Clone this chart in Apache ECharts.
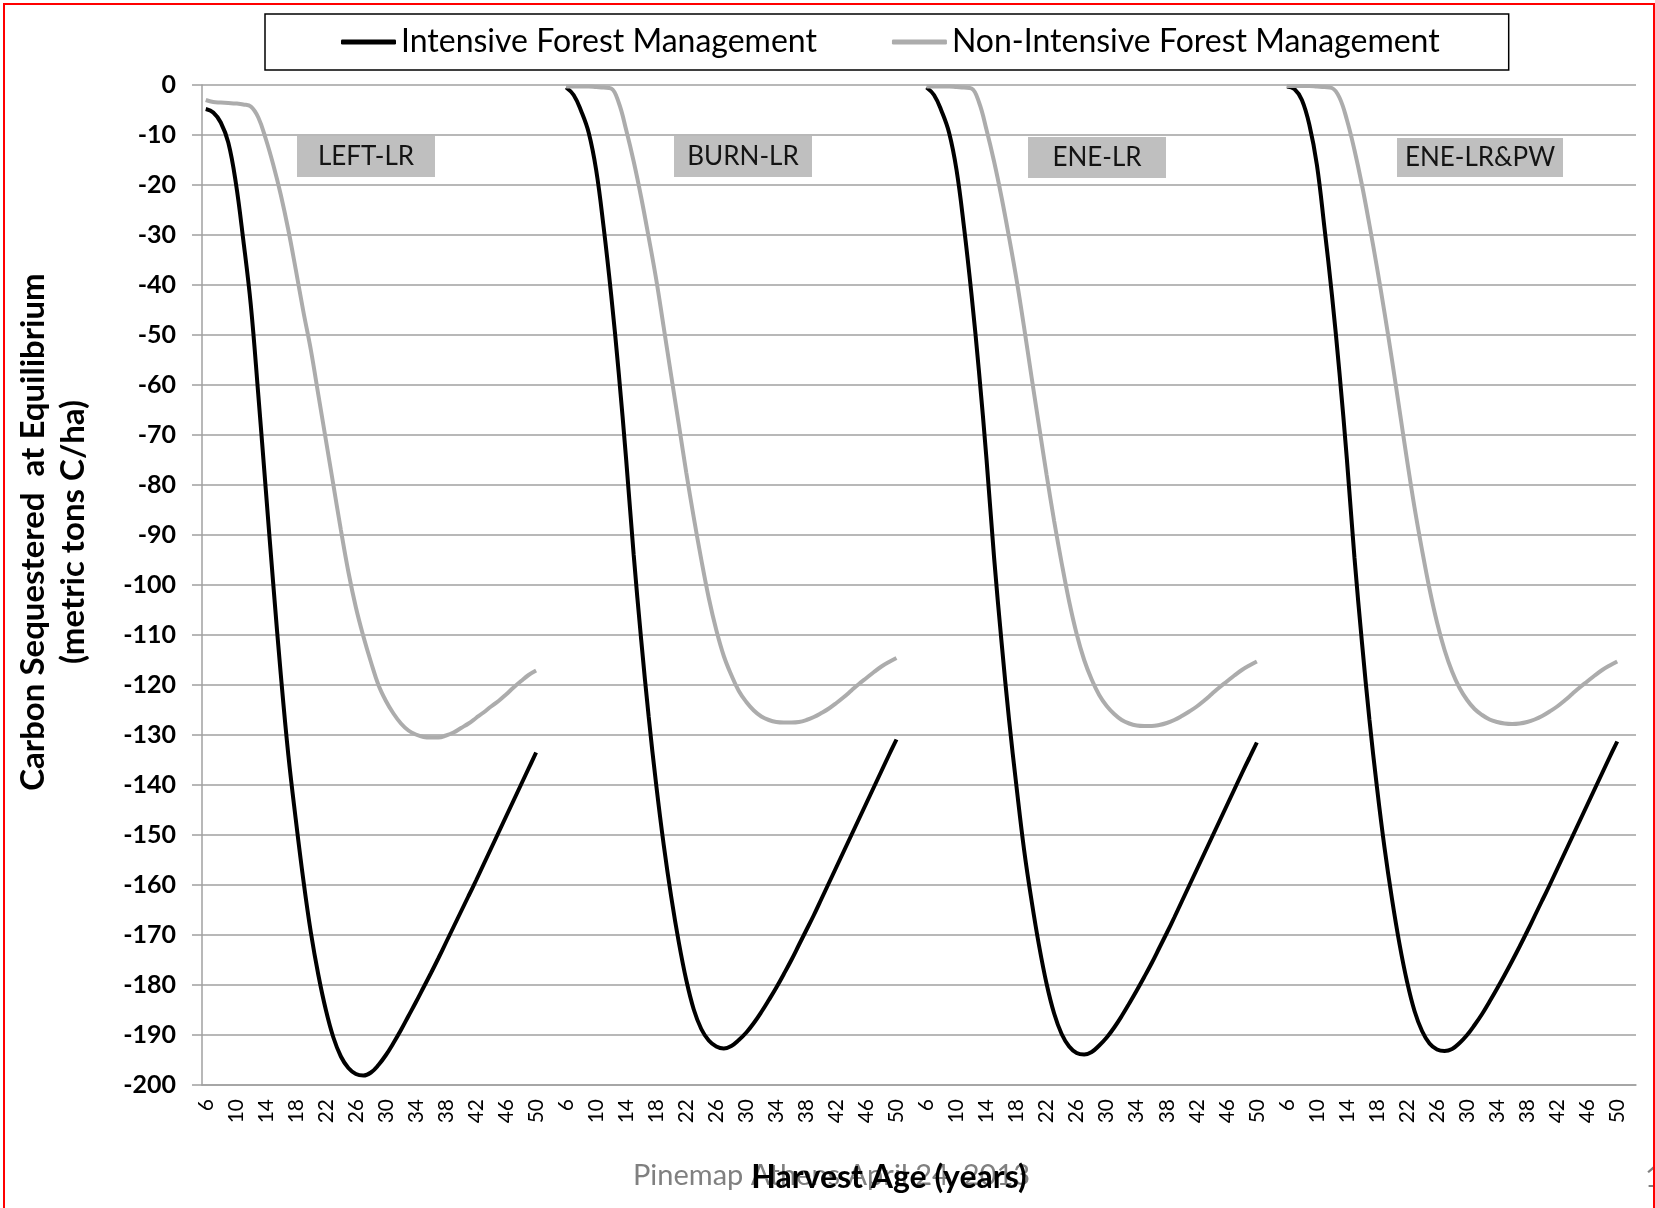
<!DOCTYPE html>
<html>
<head>
<meta charset="utf-8">
<script src="https://cdn.jsdelivr.net/npm/echarts@6/dist/echarts.min.js"></script>
<style>
html,body{margin:0;padding:0;background:#fff;}
#chart{width:1655px;height:1208px;}
</style>
</head>
<body>
<div id="chart"></div>
<script>
// ---- data ----
const ages = [6,7,8,9,10,11,12,13,14,15,16,17,18,19,20,21,22,23,24,25,26,27,28,29,30,31,32,33,34,35,36,37,38,39,40,41,42,43,44,45,46,47,48,49,50];
const panelNames = ['LEFT-LR', 'BURN-LR', 'ENE-LR', 'ENE-LR&PW'];
const seriesNames = ['Intensive Forest Management', 'Non-Intensive Forest Management'];

const intensiveLEFT = [-4.8,-5.5,-7.5,-11.5,-19.5,-31,-44,-62,-81,-100,-118,-134,-147,-159,-169.5,-178,-185,-190.5,-194.3,-196.6,-197.8,-198.1,-197.5,-196,-194,-191.6,-189,-186.2,-183.4,-180.5,-177.6,-174.6,-171.5,-168.4,-165.3,-162.2,-159.1,-155.9,-152.7,-149.5,-146.3,-143.1,-139.9,-136.7,-133.5];
const nonIntensiveLEFT = [-3.0,-3.4,-3.5,-3.6,-3.7,-3.9,-4.3,-6.5,-10.8,-16,-22,-29,-37,-45.3,-53,-62,-71,-80,-89,-97.4,-104.5,-110.3,-115.4,-120,-123.2,-125.7,-127.7,-129.1,-129.9,-130.4,-130.5,-130.5,-130.1,-129.5,-128.6,-127.7,-126.6,-125.5,-124.3,-123.2,-121.9,-120.5,-119.2,-118,-117.1];

const intensiveBURN = [-0.5,-2.0,-5.2,-9.5,-17,-28.5,-42,-57.5,-75,-94,-111,-126.4,-140,-152,-162.4,-171.4,-179,-184.9,-188.8,-191.1,-192.3,-192.7,-192.2,-191,-189.5,-187.6,-185.4,-183,-180.5,-177.8,-175,-172,-169,-166,-162.8,-159.6,-156.4,-153.2,-150,-146.8,-143.6,-140.4,-137.2,-134,-130.9];
const nonIntensiveBURN = [-0.3,-0.3,-0.3,-0.3,-0.4,-0.5,-0.7,-3.5,-9,-15.3,-22.5,-30.5,-38.9,-48.5,-58.2,-67.8,-77.5,-86.5,-94.9,-102.6,-109,-114.2,-118,-121.2,-123.4,-125.1,-126.3,-127,-127.4,-127.5,-127.5,-127.4,-127,-126.4,-125.6,-124.7,-123.6,-122.4,-121.1,-119.8,-118.6,-117.4,-116.3,-115.4,-114.6];

const intensiveENE = [-0.5,-2.0,-5.2,-9.5,-17,-28.5,-42,-57.5,-75,-94.5,-111.5,-127,-140.5,-153,-163.2,-172.2,-179.8,-185.7,-189.8,-192.3,-193.6,-193.9,-193.4,-192.1,-190.5,-188.5,-186.2,-183.7,-181.1,-178.4,-175.6,-172.6,-169.6,-166.5,-163.3,-160.1,-156.9,-153.7,-150.5,-147.3,-144.1,-140.9,-137.7,-134.6,-131.5];
const nonIntensiveENE = [-0.3,-0.3,-0.3,-0.3,-0.4,-0.5,-0.7,-3.5,-9,-15.3,-22.5,-30.5,-39,-48.5,-58.5,-68.3,-78,-87.2,-95.6,-103.3,-109.8,-115,-118.9,-122,-124.2,-125.8,-127,-127.7,-128.1,-128.2,-128.2,-128,-127.6,-127,-126.2,-125.3,-124.3,-123.1,-121.8,-120.5,-119.3,-118.1,-117,-116.1,-115.3];

const intensiveENEPW = [-0.3,-0.8,-3,-8,-16,-28.5,-42,-57.5,-75,-94.5,-111.5,-127,-140.5,-152.5,-162.8,-171.8,-179.3,-185.2,-189.2,-191.7,-192.9,-193.2,-192.8,-191.6,-190,-188,-185.8,-183.3,-180.7,-178,-175.2,-172.3,-169.3,-166.2,-163.1,-160,-156.8,-153.6,-150.4,-147.2,-144,-140.8,-137.6,-134.4,-131.3];
const nonIntensiveENEPW = [-0.2,-0.2,-0.2,-0.2,-0.3,-0.4,-0.6,-2.5,-7,-13,-20,-28,-36.5,-45.5,-55,-65,-75,-84.5,-93,-100.8,-107.5,-113,-117.3,-120.6,-123,-124.8,-126,-126.9,-127.4,-127.7,-127.8,-127.7,-127.4,-126.9,-126.2,-125.3,-124.3,-123.1,-121.8,-120.5,-119.3,-118.1,-117,-116.1,-115.3];

const intensiveByPanel = [intensiveLEFT, intensiveBURN, intensiveENE, intensiveENEPW];
const nonIntensiveByPanel = [nonIntensiveLEFT, nonIntensiveBURN, nonIntensiveENE, nonIntensiveENEPW];

// ---- build category axis (panels separated by empty slots) ----
const GAP_SLOTS = 3, END_SLOTS = 2;
const categories = [];
const intensiveData = [];
const nonIntensiveData = [];
panelNames.forEach((p, k) => {
  ages.forEach((a, i) => {
    categories.push(String(a));
    intensiveData.push(intensiveByPanel[k][i]);
    nonIntensiveData.push(nonIntensiveByPanel[k][i]);
  });
  const n = k < panelNames.length - 1 ? GAP_SLOTS : END_SLOTS;
  for (let j = 0; j < n; j++) { categories.push(''); intensiveData.push(null); nonIntensiveData.push(null); }
});

const FONT = 'Lato, "Open Sans", sans-serif';
const GRID_COLOR = '#a0a0a0';

// panel label boxes (centre x, centre y, width, height in px)
const labelBoxes = [
  {cx: 366, cy: 156.5, w: 138, h: 41},
  {cx: 743, cy: 156.5, w: 138, h: 41},
  {cx: 1097, cy: 157.5, w: 138, h: 41},
  {cx: 1480, cy: 157.5, w: 166, h: 39}
];

const graphics = [];
panelNames.forEach((name, k) => {
  const b = labelBoxes[k];
  graphics.push({type: 'rect', z: 5, shape: {x: b.cx - b.w/2, y: b.cy - b.h/2, width: b.w, height: b.h}, style: {fill: '#bfbfbf'}});
  graphics.push({type: 'text', z: 6, x: b.cx, y: b.cy, style: {text: name, fill: '#141414', font: '26px ' + FONT, align: 'center', verticalAlign: 'middle'}});
});
graphics.push({type: 'text', z: 6, x: 53, y: 532, rotation: Math.PI/2,
  style: {text: 'Carbon Sequestered  at Equilibrium\n(metric tons C/ha)', fill: '#000', font: 'bold 33px ' + FONT, align: 'center', verticalAlign: 'middle', lineHeight: 40}});
graphics.push({type: 'text', z: 6, x: 633, y: 1176, style: {text: 'Pinemap Athens April 24, 2013', fill: '#808080', font: '29px ' + FONT, align: 'left', verticalAlign: 'middle'}});
graphics.push({type: 'text', z: 7, x: 889, y: 1178, style: {text: 'Harvest Age (years)', fill: '#000', font: 'bold 32px ' + FONT, align: 'center', verticalAlign: 'middle'}});
graphics.push({type: 'text', z: 6, x: 1645, y: 1178, style: {text: '1', fill: '#808080', font: '29px ' + FONT, align: 'left', verticalAlign: 'middle'}});
graphics.push({type: 'rect', z: 20, shape: {x: 4, y: 4, width: 1650, height: 1240}, style: {fill: 'none', stroke: '#ff0000', lineWidth: 2}});

const chart = echarts.init(document.getElementById('chart'), null, {renderer: 'canvas'});
chart.setOption({
  animation: false,
  backgroundColor: '#fff',
  textStyle: {fontFamily: FONT},
  legend: {
    left: 265, top: 14,
    padding: [12, 69, 12, 76],
    borderColor: '#000', borderWidth: 1.5,
    itemGap: 75, itemWidth: 55, itemHeight: 5,
    icon: 'roundRect',
    textStyle: {fontFamily: FONT, fontSize: 32, color: '#000', lineHeight: 32},
    data: seriesNames
  },
  grid: {left: 202, right: 19, top: 85, bottom: 123, containLabel: false},
  xAxis: {
    type: 'category',
    data: categories,
    boundaryGap: true,
    axisLine: {show: true, onZero: false, lineStyle: {color: GRID_COLOR, width: 1.5}},
    axisTick: {show: false},
    axisLabel: {
      rotate: 90, margin: 14, fontSize: 21, color: '#000', fontFamily: FONT,
      interval: (idx, val) => idx % 4 === 0 && val !== ''
    },
    splitLine: {show: false}
  },
  yAxis: {
    type: 'value', min: -200, max: 0, interval: 10,
    axisLine: {show: true, lineStyle: {color: GRID_COLOR, width: 1.5}},
    axisTick: {show: true, inside: false, length: 10, lineStyle: {color: GRID_COLOR, width: 1.5}},
    axisLabel: {margin: 26, fontSize: 25, fontWeight: 'bold', color: '#000', fontFamily: FONT},
    splitLine: {show: true, lineStyle: {color: GRID_COLOR, width: 1.5}}
  },
  series: [
    {name: seriesNames[0], type: 'line', data: intensiveData, smooth: 0.4, symbol: 'none', connectNulls: false,
     itemStyle: {color: '#000'}, lineStyle: {color: '#000', width: 4}},
    {name: seriesNames[1], type: 'line', data: nonIntensiveData, smooth: 0.4, symbol: 'none', connectNulls: false,
     itemStyle: {color: '#acacac'}, lineStyle: {color: '#acacac', width: 4}}
  ],
  graphic: graphics
});
</script>
</body>
</html>
